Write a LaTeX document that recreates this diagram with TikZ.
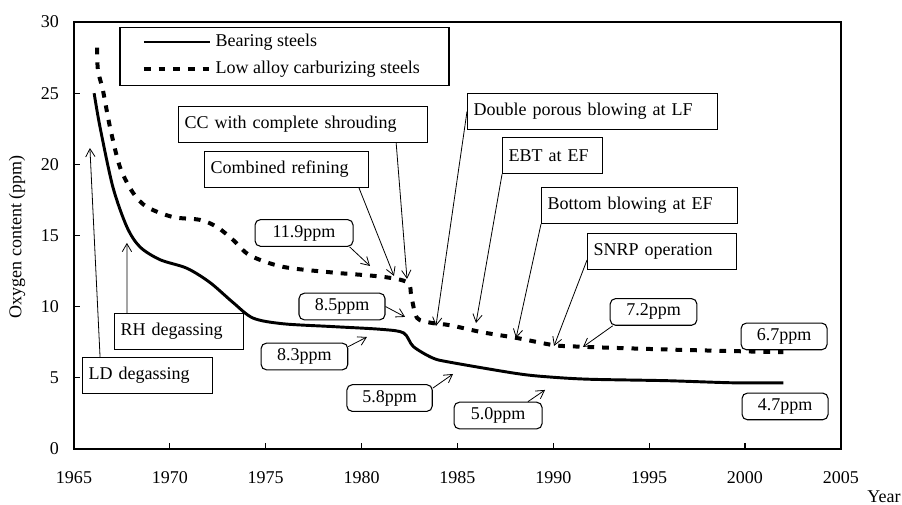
\documentclass[tikz,border=0pt]{standalone}
\usepackage{fontspec}
\setmainfont{Liberation Serif}
\usetikzlibrary{arrows.meta}
\begin{document}
\begin{tikzpicture}[x=14.378pt,y=10.673pt,
  every node/.style={font=\fontsize{13.5}{16}\selectfont},
  labelbox/.style={draw,line width=0.8pt,anchor=north west,inner xsep=4.5pt,inner ysep=0pt,
    minimum height=27pt,text width=#1,align=left},
  ppmbox/.style={draw,line width=0.8pt,rounded corners=4pt,minimum width=#1,minimum height=20pt,inner sep=0pt},
  pointer/.style={-{Straight Barb[length=6pt,width=7pt]},line width=0.6pt},
  bearing/.style={line width=2.2pt},
  carb/.style={line width=3pt,dash pattern=on 5pt off 6pt}]
\useasboundingbox (-3.86,-3.935) rectangle (43.19,31.55);
% axes
\draw[line width=1pt] (0,0) rectangle (40,30);
\foreach \i in {1,...,7}{
  \draw[line width=0.8pt] (5*\i,0) -- ++(0,0.42);
}
\foreach \v in {5,10,...,25}{
  \draw[line width=0.8pt] (0,\v) -- ++(0.31,0);
}
\foreach \v in {0,5,...,30}{
  \node [anchor=east,inner sep=0pt] (yt\v) at (-0.78,\v) {\v};
}
\foreach \yr [count=\i from 0] in {1965,1970,...,2005}{
  \node (xt\yr) at (5*\i,-2.04) {\yr};
}
\node (xlab) at (42.25,-3.37) {Year};
\node [rotate=90] (ylab) at (-2.97,14.9) {Oxygen content (ppm)};
% legend
\draw[line width=0.8pt] (2.40,29.59) rectangle (19.56,25.51);
\draw[bearing] (3.65,28.6) -- (7.09,28.6);
\draw[carb] (3.65,26.7) -- (7.09,26.7);
\node [anchor=west,inner sep=1pt] (legA) at (7.30,28.6) {Bearing steels};
\node [anchor=west,inner sep=1pt] (legB) at (7.30,26.7) {Low alloy carburizing steels};
% curves
\draw[bearing] plot[smooth,tension=0.5] coordinates {(1.05,25) (1.36,22.6) (2.03,18.4) (2.76,15.6)
  (3.44,14.2) (4.49,13.3) (5.89,12.7) (7.09,11.7) (8.29,10.3) (9.34,9.2) (10.9,8.8) (13.5,8.6)
  (16.1,8.4) (17.2,8.15) (17.7,7.2) (18.7,6.4) (19.6,6.1) (23.1,5.3) (24.8,5.06) (26.9,4.9)
  (30.9,4.8) (34.4,4.65) (37.0,4.65)};
\draw[carb] plot[smooth,tension=0.5] coordinates {(1.2,28.2) (1.25,26.6) (1.51,25.2) (1.88,22.6)
  (2.40,19.8) (3.08,18.0) (3.81,17.0) (5.16,16.3) (6.57,16.1) (7.46,15.6) (8.29,14.7) (9.18,13.6)
  (10.9,12.8) (13.5,12.4) (16.1,12.1) (17.4,11.7) (17.6,10.7) (17.9,9.2) (18.7,8.85) (19.6,8.7)
  (21.3,8.2) (23.1,7.8) (25.0,7.3) (26.2,7.2) (28.3,7.1) (31.8,6.96) (37.0,6.8)};
% process labels
\node [labelbox=177.75pt] (cc) at (5.43,24.1) {CC with complete shrouding};
\node [labelbox=114pt] (comb) at (6.78,20.94) {Combined refining};
\node [labelbox=178.5pt] (dp) at (20.5,25.02) {Double porous blowing at LF};
\node [labelbox=66pt] (ebt) at (22.33,21.93) {EBT at EF};
\node [labelbox=138pt] (bot) at (24.36,18.41) {Bottom blowing at EF};
\node [labelbox=102.75pt] (snrp) at (26.76,15.18) {SNRP operation};
\node [labelbox=87.75pt] (rh) at (2.09,9.56) {RH degassing};
\node [labelbox=88.5pt] (ld) at (0.42,6.47) {LD degassing};
% ppm labels
\node [ppmbox=73.5pt] (p119) at (12.0,15.18) {11.9ppm};
\node [ppmbox=64.5pt] (p85) at (13.98,10.01) {8.5ppm};
\node [ppmbox=65pt] (p83) at (12.02,6.5) {8.3ppm};
\node [ppmbox=64pt] (p58) at (16.46,3.58) {5.8ppm};
\node [ppmbox=66pt] (p50) at (22.12,2.35) {5.0ppm};
\node [ppmbox=65pt] (p72) at (30.23,9.63) {7.2ppm};
\node [ppmbox=64.5pt] (p67) at (37.04,7.91) {6.7ppm};
\node [ppmbox=64.5pt] (p47) at (37.09,2.99) {4.7ppm};
% arrow tips
\coordinate (ldtip) at (0.83,21.15);
\coordinate (rhtip) at (2.76,14.48);
\coordinate (cctip) at (17.37,11.95);
\coordinate (combtip) at (16.69,12.16);
\coordinate (p119tip) at (15.44,12.86);
\coordinate (dptip) at (18.88,8.64);
\coordinate (ebttip) at (20.97,8.85);
\coordinate (bottip) at (23.06,7.8);
\coordinate (snrptip) at (25.04,7.24);
\coordinate (p85tip) at (17.27,9.28);
\coordinate (p83tip) at (15.28,7.87);
\coordinate (p58tip) at (19.77,5.27);
\coordinate (p50tip) at (24.57,4.15);
\coordinate (p72tip) at (26.55,7.17);
% arrows
\draw[pointer] ([xshift=13.5pt]ld.north west) -- (ldtip);
\draw[pointer] ([xshift=9.75pt]rh.north west) -- (rhtip);
\draw[pointer] ([xshift=-24pt]cc.south east) -- (cctip);
\draw[pointer] ([xshift=-7.5pt]comb.south east) -- (combtip);
\draw[pointer] ([xshift=-3pt]p119.south east) -- (p119tip);
\draw[pointer] (dp.west) -- (dptip);
\draw[pointer] (ebt.south west) -- (ebttip);
\draw[pointer] (bot.south west) -- (bottip);
\draw[pointer] ([yshift=7.5pt]snrp.south west) -- (snrptip);
\draw[pointer] (p85.east) -- (p85tip);
\draw[pointer] ([yshift=-3pt]p83.north east) -- (p83tip);
\draw[pointer] ([yshift=-3pt]p58.north east) -- (p58tip);
\draw[pointer] ([xshift=-11pt]p50.north east) -- (p50tip);
\draw[pointer] ([xshift=2.25pt]p72.south west) -- (p72tip);
\end{tikzpicture}
\end{document}
